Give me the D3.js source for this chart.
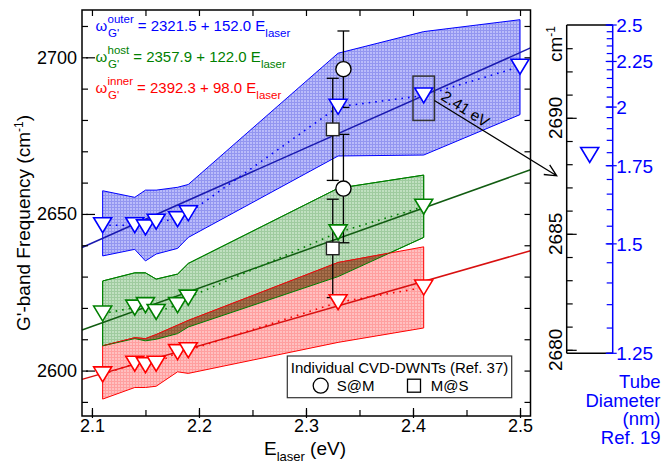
<!DOCTYPE html>
<html>
<head>
<meta charset="utf-8">
<script src="https://cdn.jsdelivr.net/npm/d3@7"></script>
<style>
body { margin: 0; background: #fff; }
svg { display: block; font-family: Arial, 'Liberation Sans', sans-serif; }
</style>
</head>
<body>
<div id="chart"></div>
<script>

// ---- data ----

// shaded bands (upper / lower edge of each band)
const bandE = [2.11, 2.14, 2.15, 2.16, 2.18, 2.19, 2.33, 2.41];
const outerBandE = [2.11, 2.14, 2.15, 2.16, 2.18, 2.19, 2.33, 2.41, 2.5];
const outerHigh = [2657.4, 2655.3, 2657.6, 2657.6, 2658.5, 2659.4, 2701.3, 2708.2, 2712.0];
const outerLow  = [2636.6, 2638.7, 2635.0, 2637.2, 2639.0, 2642.5, 2668.5, 2668.8, 2681.7];
const hostHigh  = [2628.6, 2631.2, 2631.2, 2629.2, 2630.8, 2634.2, 2658.2, 2662.4];
const hostLow   = [2607.9, 2610.2, 2609.5, 2610.0, 2611.8, 2613.9, 2630.0, 2642.5];
const innerHigh = [2607.9, 2610.5, 2610.2, 2611.5, 2614.5, 2616.0, 2634.5, 2639.5];
const innerLow  = [2590.9, 2594.6, 2594.6, 2595.0, 2599.6, 2599.1, 2609.0, 2613.6];

// measured G' peaks (triangles)
const outerE = [2.11, 2.14, 2.15, 2.16, 2.18, 2.19, 2.33, 2.41, 2.5];
const outerFreq = [2646.4, 2646.4, 2645.7, 2647.5, 2648.3, 2650.2, 2684.2, 2687.8, 2697.0];
const hostE = [2.11, 2.14, 2.15, 2.16, 2.18, 2.19, 2.33, 2.41];
const hostFreq = [2618.2, 2620.1, 2620.9, 2618.7, 2620.9, 2623.3, 2644.1, 2652.3];
const innerE = [2.11, 2.14, 2.15, 2.16, 2.18, 2.19, 2.33, 2.41];
const innerFreq = [2598.8, 2602.2, 2601.7, 2602.2, 2605.9, 2606.5, 2621.8, 2626.5];

// linear fits  w = a + b*E
const fitName = ['outer', 'host', 'inner'];
const fitA = [2321.5, 2357.9, 2392.3];
const fitB = [152.0, 122.0, 98.0];

// individual CVD-DWNTs (Ref. 37)
const smE = 2.335;
const smFreq = [2696.2, 2658.1];
const smErr = [12.2, 17.3];
const msE = 2.325;
const msFreq = [2677.0, 2639.0];
const msErr = [16.3, 15.7];

// zoomed inset (2.41 eV)
const insetE = 2.41;
const insetFreq = 2688.4;
const insetRange = [2679.85, 2694];

// tick labels
const xTicks = [2.1, 2.2, 2.3, 2.4, 2.5];
const yTicks = [2600, 2650, 2700];
const insetTicks = [2680, 2685, 2690];
const diamTicks = [2.5, 2.25, 2, 1.75, 1.5, 1.25];

const blue = '#0000ff', green = '#008000', red = '#ff0000';

const width = 664;
const height = 463;

const svg = d3.select('#chart')
    .append('svg')
    .attr('width', width)
    .attr('height', height);

const x = d3.scaleLinear().domain([2.0907, 2.5098]).range([82, 530.5]);
const y = d3.scaleLinear().domain([2585.5, 2715.1]).range([416, 10]);

// inset scales
const xi = d3.scaleLinear().domain([2.40, 2.42]).range([566.7, 612.7]);
const yi = d3.scaleLinear().domain(insetRange).range([353.3, 25]);
const yd = d3.scaleLinear().domain([1 / 1.25, 1 / 2.5]).range([353.3, 25]);

// grid-like fill patterns
const defs = svg.append('defs');
function hatch(id, base, line) {
    const p = defs.append('pattern')
        .attr('id', id)
        .attr('width', 3).attr('height', 3)
        .attr('patternUnits', 'userSpaceOnUse');
    p.append('rect').attr('width', 3).attr('height', 3).attr('fill', base);
    p.append('path').attr('d', 'M0,0.5H3M0.5,0V3')
        .attr('stroke', line).attr('stroke-width', 1).attr('fill', 'none');
}
hatch('hBlue', '#babcfa', '#9396f0');
hatch('hGreen', '#c0e0c0', '#9fcb9f');
hatch('hRed', '#ffc0c0', '#ff9f9f');
hatch('hBrown', '#a8704c', '#8e5a38');

const area = d3.area()
    .x(d => x(d[0]))
    .y0(d => y(d[1]))
    .y1(d => y(d[2]));

const outerBand = outerBandE.map((e, i) => [e, outerLow[i], outerHigh[i]]);
const hostBand = bandE.map((e, i) => [e, hostLow[i], hostHigh[i]]);
const innerBand = bandE.map((e, i) => [e, innerLow[i], innerHigh[i]]);

svg.append('path').attr('d', area(outerBand))
    .attr('fill', 'url(#hBlue)').attr('stroke', blue).attr('stroke-width', 1);
svg.append('path').attr('d', area(hostBand))
    .attr('fill', 'url(#hGreen)').attr('stroke', green).attr('stroke-width', 1);
svg.append('path').attr('d', area(innerBand))
    .attr('fill', 'url(#hRed)').attr('stroke', red).attr('stroke-width', 1);

// overlap of host and inner bands
defs.append('clipPath').attr('id', 'clipHost')
    .append('path').attr('d', area(hostBand));
svg.append('path').attr('d', area(innerBand))
    .attr('clip-path', 'url(#clipHost)')
    .attr('fill', 'url(#hBrown)');
svg.append('path').attr('d', area(hostBand))
    .attr('fill', 'none').attr('stroke', green).attr('stroke-width', 1);
svg.append('path').attr('d', area(innerBand))
    .attr('fill', 'none').attr('stroke', '#e01010').attr('stroke-width', 1)
    .attr('clip-path', 'url(#clipHost)');

// fit lines
const fitColor = ['#1a1ab0', '#115c11', '#d81010'];
const line = d3.line().x(d => x(d[0])).y(d => y(d[1]));
fitName.forEach((n, i) => {
    const ends = x.domain().map(e => [e, fitA[i] + fitB[i] * e]);
    svg.append('path')
        .attr('d', line(ends))
        .attr('fill', 'none')
        .attr('stroke', fitColor[i])
        .attr('stroke-width', 1.5);
});

// dotted connections + triangles
const series = [
    { e: outerE, f: outerFreq, c: blue },
    { e: hostE, f: hostFreq, c: green },
    { e: innerE, f: innerFreq, c: red }
];
const tri = (cx, cy) => `M${cx - 9},${cy - 7.5}L${cx + 9},${cy - 7.5}L${cx},${cy + 7.5}Z`;

series.forEach(s => {
    const pts = s.e.map((e, i) => [e, s.f[i]]);
    svg.append('path')
        .attr('d', line(pts))
        .attr('fill', 'none')
        .attr('stroke', s.c)
        .attr('stroke-width', 1.6)
        .attr('stroke-dasharray', '1.6,5');
});

// error bars for the individual tubes
function errBars(e, f, err) {
    const g = svg.append('g').attr('stroke', '#000').attr('stroke-width', 1.3);
    f.forEach((v, i) => {
        const cx = x(e);
        g.append('line').attr('x1', cx).attr('x2', cx)
            .attr('y1', y(v + err[i])).attr('y2', y(v - err[i]));
        [v + err[i], v - err[i]].forEach(w => {
            g.append('line').attr('x1', cx - 6).attr('x2', cx + 6)
                .attr('y1', y(w)).attr('y2', y(w));
        });
    });
}
errBars(smE, smFreq, smErr);
errBars(msE, msFreq, msErr);

series.forEach(s => {
    svg.append('g')
        .selectAll('path')
        .data(s.e.map((e, i) => [e, s.f[i]]))
        .enter()
        .append('path')
        .attr('d', d => tri(x(d[0]), y(d[1])))
        .attr('fill', '#fff')
        .attr('stroke', s.c)
        .attr('stroke-width', 1.6);
});

svg.append('g')
    .selectAll('circle')
    .data(smFreq)
    .enter()
    .append('circle')
    .attr('cx', x(smE))
    .attr('cy', d => y(d))
    .attr('r', 7.6)
    .attr('fill', '#fff')
    .attr('stroke', '#000')
    .attr('stroke-width', 1.4);

svg.append('g')
    .selectAll('rect')
    .data(msFreq)
    .enter()
    .append('rect')
    .attr('x', x(msE) - 6.3)
    .attr('y', d => y(d) - 6.3)
    .attr('width', 12.6)
    .attr('height', 12.6)
    .attr('fill', '#fff')
    .attr('stroke', '#222')
    .attr('stroke-width', 1.4);

// box around the 2.41 eV point
svg.append('rect')
    .attr('x', x(2.40))
    .attr('y', y(insetRange[1]))
    .attr('width', x(2.42) - x(2.40))
    .attr('height', y(insetRange[0]) - y(insetRange[1]))
    .attr('fill', 'none')
    .attr('stroke', '#333')
    .attr('stroke-width', 1.5);

// legend
const lg = svg.append('g');
lg.append('rect')
    .attr('x', 287.3).attr('y', 356)
    .attr('width', 224.4).attr('height', 41.7)
    .attr('fill', '#fff').attr('stroke', '#333').attr('stroke-width', 1.2);
lg.append('text')
    .attr('x', 399.5).attr('y', 372.5)
    .attr('text-anchor', 'middle')
    .style('font-size', '15px')
    .text('Individual CVD-DWNTs (Ref. 37)');
lg.append('circle')
    .attr('cx', 320.7).attr('cy', 385.7).attr('r', 7.5)
    .attr('fill', '#fff').attr('stroke', '#000').attr('stroke-width', 1.3);
lg.append('text').attr('x', 336.7).attr('y', 391.3)
    .style('font-size', '15px').text('S@M');
lg.append('rect')
    .attr('x', 407.5).attr('y', 379.2).attr('width', 13).attr('height', 13)
    .attr('fill', '#fff').attr('stroke', '#000').attr('stroke-width', 1.3);
lg.append('text').attr('x', 430.7).attr('y', 391.3)
    .style('font-size', '15px').text('M@S');

// main frame
svg.append('rect')
    .attr('x', 82).attr('y', 10)
    .attr('width', 448.5).attr('height', 406)
    .attr('fill', 'none')
    .attr('stroke', '#000')
    .attr('stroke-width', 1.5);

// axes
function clean(g) {
    g.select('.domain').remove();
    g.selectAll('line').attr('stroke', '#000').attr('stroke-width', 1.2);
}
const yMinor = d3.range(2590, 2711, 10);
const xMinor = d3.range(0, 9).map(i => 2.1 + i * 0.05);

svg.append('g')
    .attr('transform', 'translate(82,0)')
    .call(d3.axisLeft(y).tickValues(yMinor).tickSize(-6).tickFormat(''))
    .call(clean);
svg.append('g')
    .attr('transform', 'translate(86,0)')
    .call(d3.axisLeft(y).tickValues(yTicks).tickSize(-9).tickPadding(9).tickFormat(d3.format('d')))
    .call(clean)
    .call(g => g.selectAll('text').attr('font-size', 18).attr('font-family', 'Arial, Liberation Sans, sans-serif').attr('fill', '#000'));
svg.append('g')
    .attr('transform', 'translate(530.5,0)')
    .call(d3.axisRight(y).tickValues(yMinor).tickSize(-6).tickFormat(''))
    .call(clean);

svg.append('g')
    .attr('transform', 'translate(0,416)')
    .call(d3.axisBottom(x).tickValues(xMinor).tickSize(-6).tickFormat(''))
    .call(clean);
svg.append('g')
    .attr('transform', 'translate(0,418)')
    .call(d3.axisBottom(x).tickValues(xTicks).tickSize(-10).tickPadding(1).tickFormat(d3.format('.1f')))
    .call(clean)
    .call(g => g.selectAll('text').attr('font-size', 18).attr('font-family', 'Arial, Liberation Sans, sans-serif').attr('fill', '#000'));
svg.append('g')
    .attr('transform', 'translate(0,10)')
    .call(d3.axisTop(x).tickValues(xMinor).tickSize(-6).tickFormat(''))
    .call(clean);

// axis titles
svg.append('text')
    .attr('transform', 'translate(29.5,223)rotate(-90)')
    .attr('text-anchor', 'middle')
    .style('font-size', '19px')
    .html('G\'-band Frequency (cm<tspan dy="-7" font-size="12">-1</tspan><tspan dy="7">)</tspan>');

svg.append('text')
    .attr('x', 305)
    .attr('y', 455)
    .attr('text-anchor', 'middle')
    .style('font-size', '19px')
    .html('E<tspan dy="6" font-size="13">laser</tspan><tspan dy="-6"> (eV)</tspan>');

// fit equations
const eqColor = [blue, green, red];
fitName.forEach((n, i) => {
    const base = 31 + 31 * i;
    const g = svg.append('g').attr('fill', eqColor[i]);
    g.append('text').attr('x', 95.5).attr('y', base).style('font-size', '15px').text('\u03c9');
    const sup = g.append('text').attr('x', 107.5).attr('y', base - 8).style('font-size', '11.5px').text(n);
    g.append('text').attr('x', 108).attr('y', base + 6).style('font-size', '11.5px').text('G\'');
    const x0 = 107.5 + sup.node().getComputedTextLength() + 4;
    g.append('text')
        .attr('x', x0).attr('y', base)
        .style('font-size', '15px')
        .html('= ' + fitA[i].toFixed(1) + ' + ' + fitB[i].toFixed(1) + ' E<tspan dy="6" font-size="11.5">laser</tspan>');
});

// ---- inset ----
const inset = svg.append('g');
inset.append('line').attr('x1', xi.range()[0]).attr('x2', xi.range()[1])
    .attr('y1', 25).attr('y2', 25).attr('stroke', '#000').attr('stroke-width', 1.5);
inset.append('line').attr('x1', xi.range()[0]).attr('x2', xi.range()[1])
    .attr('y1', 353.3).attr('y2', 353.3).attr('stroke', '#000').attr('stroke-width', 1.5);
inset.append('line').attr('x1', xi.range()[0]).attr('x2', xi.range()[0])
    .attr('y1', 25).attr('y2', 353.3).attr('stroke', '#000').attr('stroke-width', 1.5);

inset.append('g')
    .attr('transform', 'translate(' + xi.range()[0] + ',0)')
    .call(d3.axisLeft(yi).tickValues(d3.range(2680, 2694, 1)).tickSize(-6).tickFormat(''))
    .call(clean);
inset.append('g')
    .attr('transform', 'translate(' + xi.range()[0] + ',0)')
    .call(d3.axisLeft(yi).tickValues(insetTicks).tickSize(-10).tickFormat(''))
    .call(clean);
inset.selectAll('.ilab')
    .data(insetTicks)
    .enter()
    .append('text')
    .attr('transform', d => 'translate(561.5,' + yi(d) + ')rotate(-90)')
    .attr('text-anchor', 'middle')
    .style('font-size', '19px')
    .text(d => d);
inset.append('text')
    .attr('transform', 'translate(561.5,62)rotate(-90)')
    .style('font-size', '19px')
    .html('cm<tspan dy="-7" font-size="12">-1</tspan>');

// diameter axis (1/d scale)
const diamMinor = d3.range(0, 26).map(i => 1.25 + i * 0.05);
const da = inset.append('g').attr('transform', 'translate(' + xi.range()[1] + ',0)');
da.append('line').attr('y1', 25).attr('y2', 353.3)
    .attr('stroke', blue).attr('stroke-width', 1.5);
da.selectAll('.dm')
    .data(diamMinor)
    .enter()
    .append('line')
    .attr('x1', -6).attr('x2', 0)
    .attr('y1', d => yd(1 / d)).attr('y2', d => yd(1 / d))
    .attr('stroke', blue).attr('stroke-width', 1.2);
da.selectAll('.dM')
    .data(diamTicks)
    .enter()
    .append('line')
    .attr('x1', -7).attr('x2', 4)
    .attr('y1', d => yd(1 / d)).attr('y2', d => yd(1 / d))
    .attr('stroke', blue).attr('stroke-width', 1.2);
da.selectAll('text')
    .data(diamTicks)
    .enter()
    .append('text')
    .attr('x', 3.5)
    .attr('y', d => yd(1 / d))
    .attr('dy', '0.36em')
    .attr('fill', blue)
    .style('font-size', '19px')
    .text(d => d);

const diamTitle = ['Tube', 'Diameter', '(nm)', 'Ref. 19'];
svg.append('g')
    .selectAll('text')
    .data(diamTitle)
    .enter()
    .append('text')
    .attr('x', 660.5)
    .attr('y', (d, i) => 388 + i * 18.7)
    .attr('text-anchor', 'end')
    .attr('fill', blue)
    .style('font-size', '18.5px')
    .text(d => d);

inset.append('path')
    .attr('d', tri(xi(insetE), yi(insetFreq)))
    .attr('fill', '#fff')
    .attr('stroke', blue)
    .attr('stroke-width', 1.6);

// arrow from the boxed point to the inset
const p0 = [x(2.42), y(2686.2)];
const p1 = [xi.range()[0] - 10, yi(2687.5)];
const ang = Math.atan2(p1[1] - p0[1], p1[0] - p0[0]);
const head = [ang + Math.PI - 0.45, ang + Math.PI + 0.45].map(a => [p1[0] + 13 * Math.cos(a), p1[1] + 13 * Math.sin(a)]);
svg.append('path')
    .attr('d', `M${p0[0]},${p0[1]}L${p1[0]},${p1[1]}M${head[0][0]},${head[0][1]}L${p1[0]},${p1[1]}L${head[1][0]},${head[1][1]}`)
    .attr('fill', 'none')
    .attr('stroke', '#000')
    .attr('stroke-width', 1.3);
svg.append('text')
    .attr('transform', 'translate(440,99)rotate(' + (ang * 180 / Math.PI + 1) + ')')
    .style('font-size', '15.5px')
    .text('2.41 eV');

</script>
</body>
</html>
